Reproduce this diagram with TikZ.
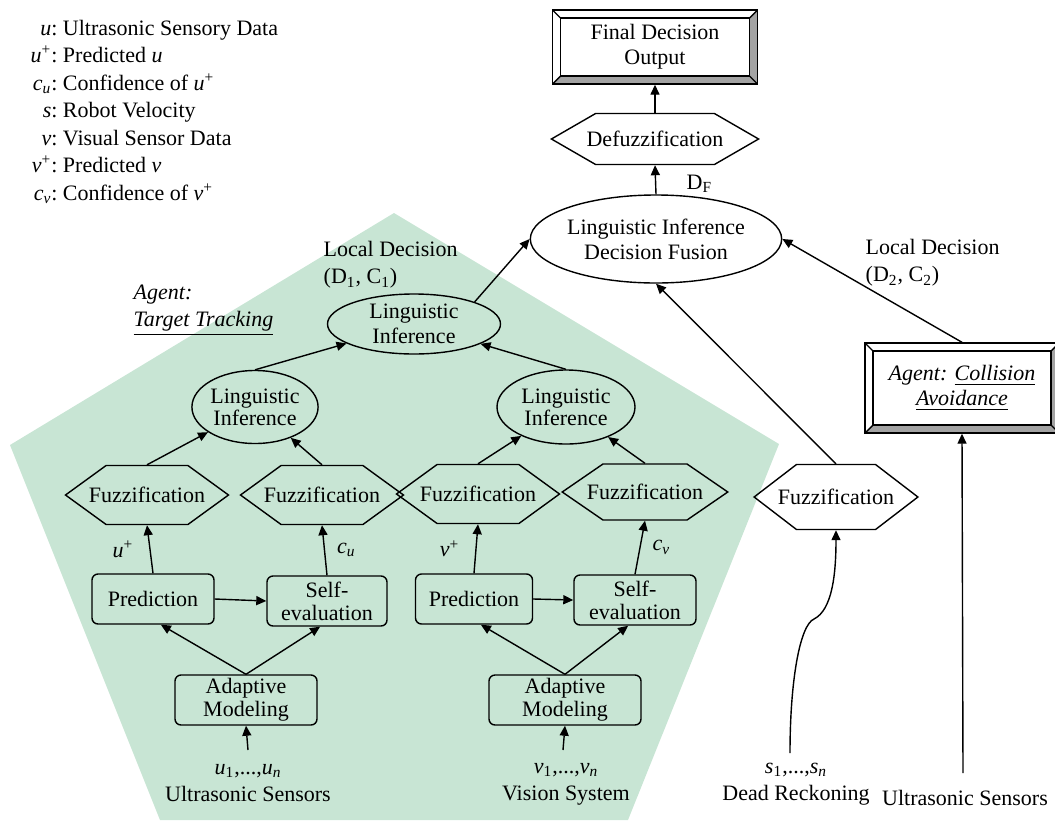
\documentclass[tikz,border=0pt]{standalone}
\usepackage{amsmath}
\usepackage{fontspec}
\setmainfont{Liberation Serif}
\definecolor{agentgreen}{HTML}{C8E5D4}
\definecolor{bevelgray}{HTML}{A3A3A3}
\usetikzlibrary{arrows.meta,positioning,shapes.geometric,shapes.symbols,calc}

\begin{document}
\begin{tikzpicture}[x=0.5pt,y=-0.5pt,line width=0.7pt,
  every node/.style={font=\fontsize{11pt}{12.5pt}\selectfont},
  lbox/.style={draw,rounded corners=3pt,align=center,inner sep=1pt,
    minimum width=61pt,minimum height=25pt,font=\fontsize{11pt}{11.5pt}\selectfont},
  hexa/.style={draw,signal,signal to=east and west,signal pointer angle=72,
    inner xsep=-8.75pt,inner ysep=1pt,minimum width=81.5pt,minimum height=29.5pt},
  lingo/.style={draw,ellipse,align=center,inner sep=0pt},
  bevel/.style={draw,align=center,inner sep=0pt,path picture={
    \fill[bevelgray] (path picture bounding box.north east) -- ++(-4pt,-4pt)
      |- ($(path picture bounding box.south west)+(4pt,4pt)$)
      -- (path picture bounding box.south west) -- (path picture bounding box.south east) -- cycle;
    \draw ($(path picture bounding box.north west)+(4pt,-4pt)$) rectangle
      ($(path picture bounding box.south east)+(-4pt,4pt)$);
    \draw (path picture bounding box.north west) -- ++(4pt,-4pt)
      (path picture bounding box.north east) -- ++(-4pt,-4pt)
      (path picture bounding box.south west) -- ++(4pt,4pt)
      (path picture bounding box.south east) -- ++(-4pt,4pt);}},
  lbl/.style={align=left,inner sep=0pt,font=\fontsize{11pt}{13.5pt}\selectfont},
  q/.style={inner sep=0pt},
  arr/.style={-{Triangle[length=5pt,width=4.5pt]}}]
  \useasboundingbox (0,0) rectangle (1055,820);
  % agent area
  \fill[agentgreen] (394,213) -- (779,444) -- (628,820) -- (160,820) -- (10,445) -- cycle;

  % legend
  \node[anchor=base west,inner sep=0pt,font=\fontsize{11pt}{13.75pt}\selectfont] (legend) at (30,35) {%
    \begin{tabular}[t]{@{}r@{:\ }l@{}}
      \textit{u} & Ultrasonic Sensory Data\\
      \textit{u}\textsuperscript{+} & Predicted \textit{u}\\
      \textit{c}\textsubscript{\textit{u}} & Confidence of \textit{u}\textsuperscript{+}\\
      \textit{s} & Robot Velocity\\
      \textit{v} & Visual Sensor Data\\
      \textit{v}\textsuperscript{+} & Predicted \textit{v}\\
      \textit{c}\textsubscript{\textit{v}} & Confidence of \textit{v}\textsuperscript{+}
    \end{tabular}};

  % fusion side
  \node[bevel,minimum width=102.5pt,minimum height=37pt] (final) at (655,47) {Final Decision\\Output};
  \node[hexa,signal pointer angle=60,inner xsep=-4.5pt,minimum width=102.5pt,minimum height=25.5pt] (defuzz) at (655,139) {Defuzzification};
  \node[lingo,minimum width=113.5pt,minimum height=44pt] (fusion) at (656,239) {Linguistic Inference\\Decision Fusion};
  \node[lbl,anchor=west] (df) at (686,184) {D\textsubscript{F}};
  \node[lbl,anchor=west] (ld2) at (865,263) {Local Decision\\(D\textsubscript{2}, C\textsubscript{2})};
  \node[bevel,minimum width=97pt,minimum height=45pt] (coll) at (962,388)
    {\textit{Agent: \underline{Collision}}\\\textit{\underline{Avoidance}}};
  \node[hexa,signal pointer angle=75,inner xsep=-9.25pt,minimum height=32.5pt] (fzs) at (836,497) {Fuzzification};
  \node[lbl,align=center] (dead) at (796,784) {\textit{s}\textsubscript{1},...,\textit{s}\textsubscript{\textit{n}}\\Dead Reckoning};
  \coordinate (sin) at (790,753);
  \node[lbl] (usens2) at (965,798) {Ultrasonic Sensors};
  \coordinate (cin) at (963,773);

  % target tracking agent
  \node[lbl,anchor=west] (agent) at (133,310) {\textit{Agent:}\\\underline{\textit{Target Tracking}}};
  \node[lbl,anchor=west] (ld1) at (323,265) {Local Decision\\(D\textsubscript{1}, C\textsubscript{1})};
  \node[lingo,minimum width=86.5pt,minimum height=30pt] (ti) at (414,324) {Linguistic\\Inference};
  \node[lingo,minimum width=62.5pt,minimum height=36.5pt,font=\fontsize{11pt}{11pt}\selectfont] (li1) at (255,407) {Linguistic\\Inference};
  \node[lingo,minimum width=69pt,minimum height=37pt,font=\fontsize{11pt}{11pt}\selectfont] (li2) at (566,407) {Linguistic\\Inference};
  \node[hexa] (fz1) at (147,495) {Fuzzification};
  \node[hexa,inner xsep=-9pt] (fz2) at (322,495) {Fuzzification};
  \node[hexa,inner xsep=-9.25pt] (fz3) at (478,494) {Fuzzification};
  \node[hexa,signal pointer angle=69,inner xsep=-8pt,minimum height=28pt] (fz4) at (645,492) {Fuzzification};
  \node[lbox] (pred1) at (153,599) {Prediction};
  \node[lbox,minimum width=60pt] (self1) at (327,601) {Self-\\evaluation};
  \node[lbox,minimum width=58.5pt] (pred2) at (474,599) {Prediction};
  \node[lbox] (self2) at (635,600) {Self-\\evaluation};
  \node[lbox,minimum width=71pt] (adapt1) at (246,700) {Adaptive\\Modeling};
  \node[lbox,minimum width=76pt] (adapt2) at (565,700) {Adaptive\\Modeling};
  \node[lbl,align=center] (usens) at (248,783) {\textit{u}\textsubscript{1},...,\textit{u}\textsubscript{\textit{n}}\\Ultrasonic Sensors};
  \node[lbl,align=center] (vsys) at (566,784) {\textit{v}\textsubscript{1},...,\textit{v}\textsubscript{\textit{n}}\\Vision System};
  \coordinate (uin) at (248,750);
  \coordinate (vin) at (563,750);

  % connectors
  \draw[arr] (uin) -- (adapt1.south);
  \draw[arr] (vin) -- (adapt2.south);
  \draw[arr] (adapt1.north) -- (pred1.-73);
  \draw[arr] (adapt1.north) -- (self1.-105);
  \draw[arr] (adapt2.north) -- (pred2.-75);
  \draw[arr] (adapt2.north) -- (self2.-105);
  \draw[arr] (pred1.east) -- (self1.west);
  \draw[arr] (pred2.east) -- (self2.west);
  \draw[arr] (pred1.north) -- node[q,left=8pt] {\textit{u}\textsuperscript{+}} (fz1.south);
  \draw[arr] (self1.north) -- node[q,right=6pt] {\textit{c}\textsubscript{\textit{u}}} (fz2.south);
  \draw[arr] (pred2.north) -- node[q,left=8pt] {\textit{v}\textsuperscript{+}} (fz3.south);
  \draw[arr] (self2.north) -- node[q,right=6pt] {\textit{c}\textsubscript{\textit{v}}} (fz4.south);
  \draw[arr] (fz1.north) -- (li1);
  \draw[arr] (fz2.north) -- (li1);
  \draw[arr] (fz3.north) -- (li2);
  \draw[arr] (fz4.north) -- (li2);
  \draw[arr] (li1.north) -- (ti);
  \draw[arr] (li2.north) -- (ti);
  \draw[arr] (ti.20) -- (fusion.west);
  \draw[arr] (sin) .. controls (790,680) and (800,625) .. (814,619) .. controls (832,610) and (836,575) .. (fzs.south);
  \draw[arr] (fzs.north) -- (fusion.south);
  \draw[arr] (cin) -- (coll.south);
  \draw[arr] (coll.north) -- (fusion.east);
  \draw[arr] (fusion.north) -- (defuzz.south);
  \draw[arr] (defuzz.north) -- (final.south);
\end{tikzpicture}
\end{document}
